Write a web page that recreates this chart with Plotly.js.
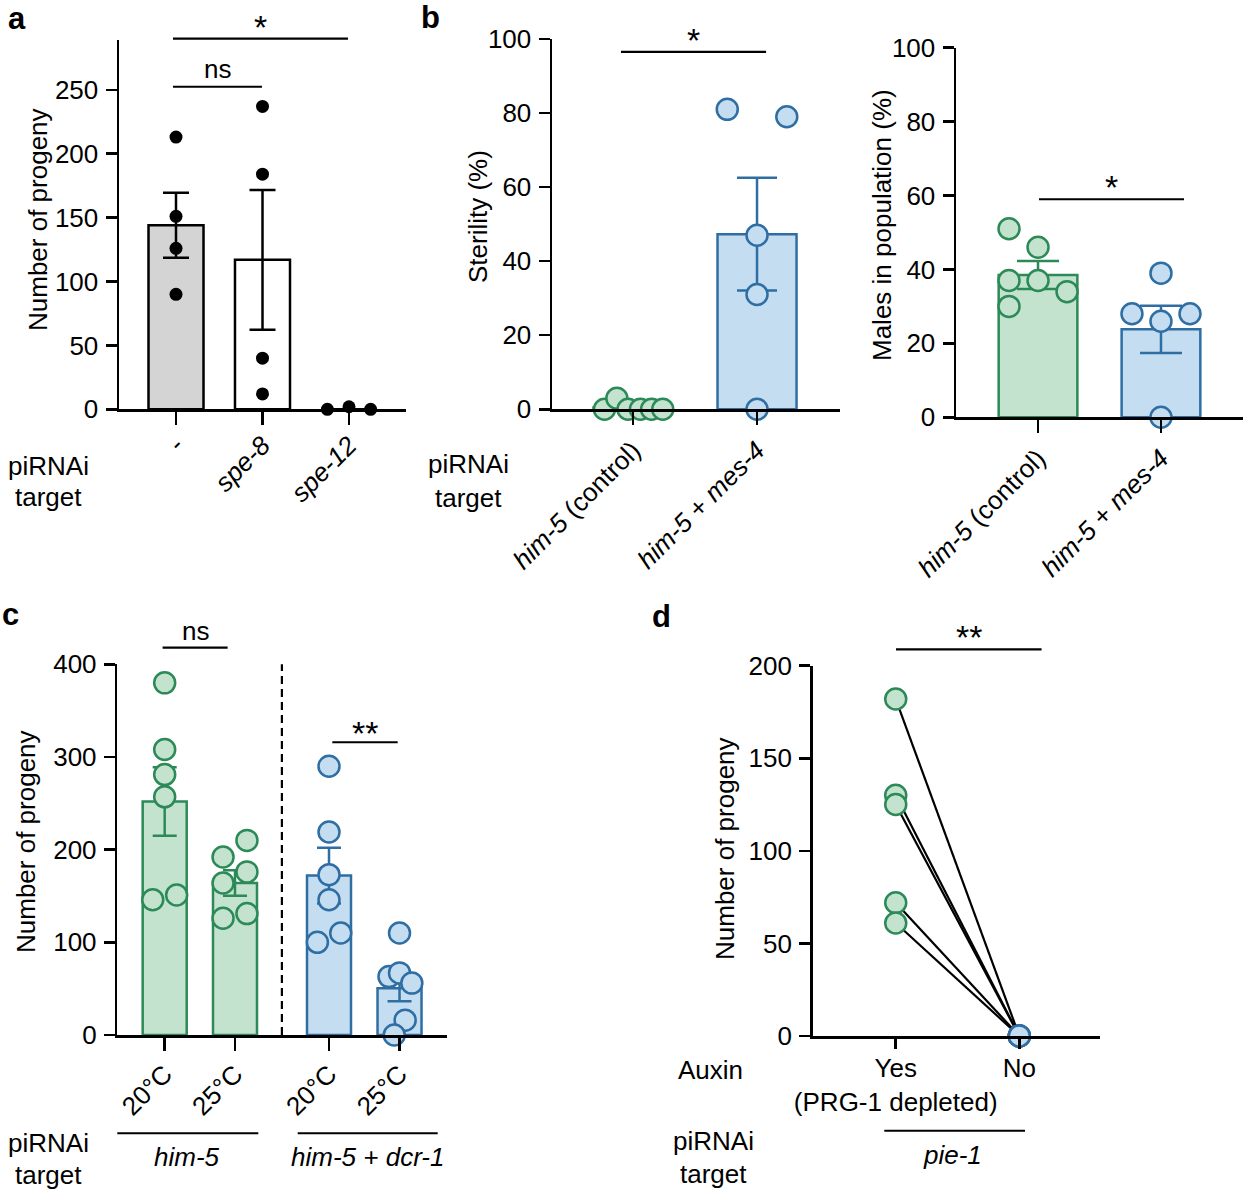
<!DOCTYPE html>
<html>
<head>
<meta charset="utf-8">
<script src="https://cdn.plot.ly/plotly-3.0.1.min.js"></script>
<style>html,body{margin:0;padding:0;background:#fff;}#chart{width:1248px;height:1193px;}</style>
</head>
<body>
<div id="chart"></div>
<script>
// ---------------- DATA ----------------
// Panel a: number of progeny, piRNAi target
const aCategories = ['-', 'spe-8', 'spe-12'];
const aNone  = [213, 151, 126, 90];
const aSpe8  = [237, 184, 40, 12];
const aSpe12 = [0, 2, 0];
const aMeans = [144, 117, 0];
const aSem   = [25.5, 54.7, 0];

// Panel b (left): sterility (%)
const bCategories = ['him-5 (control)', 'him-5 + mes-4'];
const bSterControl = [0, 3, 0, 0, 0, 0];
const bSterMes4    = [81, 79, 47, 31, 0];
const bSterMeans   = [0.5, 47.3];
const bSterSem     = [0.5, 15.2];

// Panel b (right): males in population (%)
const bMaleControl = [51, 46, 37, 37, 34, 30];
const bMaleMes4    = [39, 28, 28, 26, 0];
const bMaleMeans   = [38.5, 23.8];
const bMaleSem     = [3.8, 6.4];

// Panel c: number of progeny by temperature
const cCategories = ['20°C', '25°C', '20°C', '25°C'];
const cGroups = ['him-5', 'him-5 + dcr-1'];
const cHim5_20 = [380, 308, 281, 257, 146, 151];
const cHim5_25 = [192, 164, 126, 210, 176, 131];
const cDcr_20  = [290, 219, 173, 146, 100, 110];
const cDcr_25  = [110, 63, 67, 56, 16, 0];
const cMeans = [252, 164, 172, 50.5];
const cSem   = [37, 13.8, 30, 14];

// Panel d: paired progeny counts, auxin yes/no
const dCategories = ['Yes', 'No'];
const dYes = [182, 130, 125, 72, 61];
const dNo  = [0, 0, 0, 0, 0];

// ---------------- LAYOUT HELPERS ----------------
const W = 1248, H = 1193;
const FONT = 'Liberation Sans, Arial, sans-serif';
const GREEN = '#2b8a57', GREEN_F = '#c3e3ce';
const BLUE = '#2f6ea3', BLUE_F = '#c4ddf1';

// horizontal jitter (in category units) for the dots
const aJit = {none:[0,0,0,0], spe8:[0,0,0,0], spe12:[-0.25,0,0.25]};
const bJit = {sc:[-0.23,-0.13,-0.04,0.06,0.15,0.24], sm:[-0.24,0.24,0,0,0],
              mc:[-0.236,0,-0.236,0,0.236,-0.236], mm:[0,-0.236,0.236,0,0]};
const cPos = [0, 1, 2.337, 3.34];
const cJit = {a:[0,0,0,0,-0.17,0.17], b:[-0.17,-0.17,-0.17,0.17,0.17,0.17],
              c:[0,0,0,0,-0.165,0.167], d:[0,-0.15,0,0.175,0.08,-0.075]};

const ax = {
  a:  {xd:[119,406],   xr:[-0.659,2.659], yd:[40,409.3],   yr:[0,289]},
  bl: {xd:[552,840],   xr:[-0.653,1.669], yd:[39,409.3],   yr:[0,100]},
  br: {xd:[956,1243],  xr:[-0.667,1.667], yd:[47.7,417.3], yr:[0,100]},
  c:  {xd:[117.3,446.7], xr:[-0.674,4.011], yd:[664.3,1035], yr:[0,400]},
  d:  {xd:[812.7,1100], xr:[-0.672,1.653], yd:[665.7,1036], yr:[0,200]}
};
function px2paperX(p){return p/W;}
function px2paperY(p){return 1-p/H;}
function dataX(k,v){const a=ax[k];return (a.xd[0]+(v-a.xr[0])/(a.xr[1]-a.xr[0])*(a.xd[1]-a.xd[0]))/W;}
function dataY(k,v){const a=ax[k];return 1-(a.yd[1]-(v-a.yr[0])/(a.yr[1]-a.yr[0])*(a.yd[1]-a.yd[0]))/H;}

function xaxisDef(k, tickvals, ticktext, angle, standoff, tlen){
  const a=ax[k];
  return {domain:[a.xd[0]/W,a.xd[1]/W], range:a.xr, showline:true, linewidth:2.5, linecolor:'#000',
    ticks:'outside', ticklen:tlen||13, tickwidth:2.5, tickcolor:'#000', showgrid:false, zeroline:false,
    tickmode:'array', tickvals:tickvals, ticktext:ticktext, tickangle:angle, ticklabelstandoff:standoff||0,
    tickfont:{family:FONT,size:26,color:'#000'}, fixedrange:true};
}
function yaxisDef(k, dtick){
  const a=ax[k];
  return {domain:[1-a.yd[1]/H,1-a.yd[0]/H], range:a.yr, showline:true, linewidth:2.5, linecolor:'#000',
    ticks:'outside', ticklen:11, tickwidth:2.5, tickcolor:'#000', showgrid:false, zeroline:false,
    dtick:dtick, tick0:0, tickfont:{family:FONT,size:26,color:'#000'}, fixedrange:true, ticklabelstandoff:2};
}

const traces = [];
function bar(xa, ya, x, y, err, fill, line, width, errw){
  traces.push({type:'bar', xaxis:xa, yaxis:ya, x:x, y:y, width:width,
    marker:{color:fill, line:{color:line, width:2.5}},
    error_y:{type:'data', array:err, visible:true, color:Array.isArray(line)?'#000':line, thickness:2.5, width:errw},
    hoverinfo:'skip', showlegend:false});
}
function dots(xa, ya, center, jit, vals, fill, line, size, lw){
  traces.push({type:'scatter', mode:'markers', xaxis:xa, yaxis:ya,
    x: vals.map((v,i)=>center+jit[i]), y: vals, cliponaxis:false,
    marker:{size:size, color:fill, line:{color:line, width:lw}}, hoverinfo:'skip', showlegend:false});
}

// Panel a
bar('x','y',[0,1,2], aMeans, aSem, ['#d4d4d4','#ffffff','#ffffff'], '#000', 0.636, 13);
dots('x','y',0,aJit.none,aNone,'#000','#000',13,0);
dots('x','y',1,aJit.spe8,aSpe8,'#000','#000',13,0);
dots('x','y',2,aJit.spe12,aSpe12,'#000','#000',13,0);

// Panel b left
bar('x2','y2',[0],[bSterMeans[0]],[bSterSem[0]],GREEN_F,GREEN,0.637,20);
bar('x2','y2',[1],[bSterMeans[1]],[bSterSem[1]],BLUE_F,BLUE,0.637,20);
dots('x2','y2',0,bJit.sc,bSterControl,GREEN_F,GREEN,21,2.5);
dots('x2','y2',1,bJit.sm,bSterMes4,BLUE_F,BLUE,21,2.5);

// Panel b right
bar('x3','y3',[0],[bMaleMeans[0]],[bMaleSem[0]],GREEN_F,GREEN,0.64,21);
bar('x3','y3',[1],[bMaleMeans[1]],[bMaleSem[1]],BLUE_F,BLUE,0.64,21);
dots('x3','y3',0,bJit.mc,bMaleControl,GREEN_F,GREEN,21,2.5);
dots('x3','y3',1,bJit.mm,bMaleMes4,BLUE_F,BLUE,21,2.5);

// Panel c
bar('x4','y4',[cPos[0],cPos[1]],[cMeans[0],cMeans[1]],[cSem[0],cSem[1]],GREEN_F,GREEN,0.626,12);
bar('x4','y4',[cPos[2],cPos[3]],[cMeans[2],cMeans[3]],[cSem[2],cSem[3]],BLUE_F,BLUE,0.626,12);
dots('x4','y4',cPos[0],cJit.a,cHim5_20,GREEN_F,GREEN,21,2.5);
dots('x4','y4',cPos[1],cJit.b,cHim5_25,GREEN_F,GREEN,21,2.5);
dots('x4','y4',cPos[2],cJit.c,cDcr_20,BLUE_F,BLUE,21,2.5);
dots('x4','y4',cPos[3],cJit.d,cDcr_25,BLUE_F,BLUE,21,2.5);

// Panel d paired lines
dYes.forEach((v,i)=>{
  traces.push({type:'scatter', mode:'lines', xaxis:'x5', yaxis:'y5', x:[0,1], y:[v,dNo[i]],
    line:{color:'#000', width:2.2}, cliponaxis:false, hoverinfo:'skip', showlegend:false});
});
dots('x5','y5',0,[0,0,0,0,0],dYes,GREEN_F,GREEN,21,2.5);
dots('x5','y5',1,[0,0,0,0,0],dNo,BLUE_F,BLUE,21,2.5);

// ---------------- ANNOTATIONS & SHAPES ----------------
const annotations = [];
const shapes = [];
function txt(xp, yp, text, opts){
  annotations.push(Object.assign({xref:'paper', yref:'paper', x:px2paperX(xp), y:px2paperY(yp), text:text,
    showarrow:false, xanchor:'center', yanchor:'middle', font:{family:FONT,size:26,color:'#000'}}, opts||{}));
}
function hline(x0,x1,y,w){
  shapes.push({type:'line', xref:'paper', yref:'paper', x0:px2paperX(x0), x1:px2paperX(x1),
    y0:px2paperY(y), y1:px2paperY(y), line:{color:'#000', width:w||2.2}});
}
// significance brackets in data units: [panel, x0, x1, y, label, label offset px, font size]
const sig = [
  ['a', -0.035, 0.994, 252.4, 'ns', 1, 26],
  ['a', -0.035, 1.988, 290, '*', -9, 34],
  ['bl', -0.097, 1.073, 96.5, '*', -9, 34],
  ['br', 0.008, 1.187, 59, '*', -9, 34],
  ['c', -0.03, 0.895, 418, 'ns', 0, 26],
  ['c', 2.384, 3.314, 315.9, '**', -12, 34],
  ['d', 0.002, 1.18, 208.8, '**', -9, 34]
];
sig.forEach(s=>{
  const k=s[0];
  const x0=dataX(k,s[1]), x1=dataX(k,s[2]), y=dataY(k,s[3]);
  shapes.push({type:'line', xref:'paper', yref:'paper', x0:x0, x1:x1, y0:y, y1:y, line:{color:'#000', width:2.2}});
  annotations.push({xref:'paper', yref:'paper', x:(x0+x1)/2, y:y + s[5]/H, text:s[4], showarrow:false,
    xanchor:'center', yanchor:'bottom', font:{family:FONT, size:s[6], color:'#000'}});
});

// panel letters
txt(17,18,'<b>a</b>',{font:{family:FONT,size:31,color:'#000'}});
txt(430,17,'<b>b</b>',{font:{family:FONT,size:31,color:'#000'}});
txt(10,614,'<b>c</b>',{font:{family:FONT,size:31,color:'#000'}});
txt(661,616,'<b>d</b>',{font:{family:FONT,size:31,color:'#000'}});

// y titles
txt(38,220,'Number of progeny',{textangle:-90});
txt(478,217,'Sterility (%)',{textangle:-90});
txt(882,225,'Males in population (%)',{textangle:-90});
txt(26,842,'Number of progeny',{textangle:-90});
txt(725,849,'Number of progeny',{textangle:-90});

// piRNAi target labels
[[48,466,497],[468,464,498],[48,1143,1175],[713,1141,1174]].forEach(p=>{
  txt(p[0],p[1],'piRNAi'); txt(p[0],p[2],'target');
});
txt(710,1070,'Auxin');

// group labels under panels c and d
hline(117.3,258.3,1133.3,2);
hline(297.7,437.7,1133.3,2);
txt(187,1157,'<i>'+cGroups[0]+'</i>');
txt(367,1157,'<i>him-5</i> <i>+</i> <i>dcr-1</i>');
hline(884.3,1025,1130.7,2);
txt(952,1155,'<i>pie-1</i>');

// dashed separator in c
shapes.push({type:'line', xref:'paper', yref:'paper', x0:dataX('c',1.667), x1:dataX('c',1.667),
  y0:dataY('c',0), y1:dataY('c',400), line:{color:'#000', width:2.2, dash:'8px,5px'}});

const layout = {
  width:W, height:H, margin:{l:0,r:0,t:0,b:0}, paper_bgcolor:'#fff', plot_bgcolor:'rgba(0,0,0,0)',
  showlegend:false, barmode:'overlay', font:{family:FONT, color:'#000'},
  xaxis:  xaxisDef('a',[0,1,2],['-','<i>spe-8</i>','<i>spe-12</i>'],-45,-5),
  yaxis:  yaxisDef('a',50),
  xaxis2: xaxisDef('bl',[0,1],['<i>him-5</i> (control)','<i>him-5</i> + <i>mes-4</i>'],-45),
  yaxis2: yaxisDef('bl',20),
  xaxis3: xaxisDef('br',[0,1],['<i>him-5</i> (control)','<i>him-5</i> + <i>mes-4</i>'],-45),
  yaxis3: yaxisDef('br',20),
  xaxis4: xaxisDef('c',cPos,cCategories,-45,-2),
  yaxis4: yaxisDef('c',100),
  xaxis5: xaxisDef('d',[0,1],['Yes<br>(PRG-1 depleted)','No'],0,-3,10),
  yaxis5: yaxisDef('d',50),
  annotations:annotations, shapes:shapes
};
layout.yaxis.anchor='x'; layout.xaxis.anchor='y';
layout.yaxis2.anchor='x2'; layout.xaxis2.anchor='y2';
layout.yaxis3.anchor='x3'; layout.xaxis3.anchor='y3';
layout.yaxis4.anchor='x4'; layout.xaxis4.anchor='y4';
layout.yaxis5.anchor='x5'; layout.xaxis5.anchor='y5';

Plotly.newPlot('chart', traces, layout, {staticPlot:true, displayModeBar:false});
</script>
</body>
</html>
